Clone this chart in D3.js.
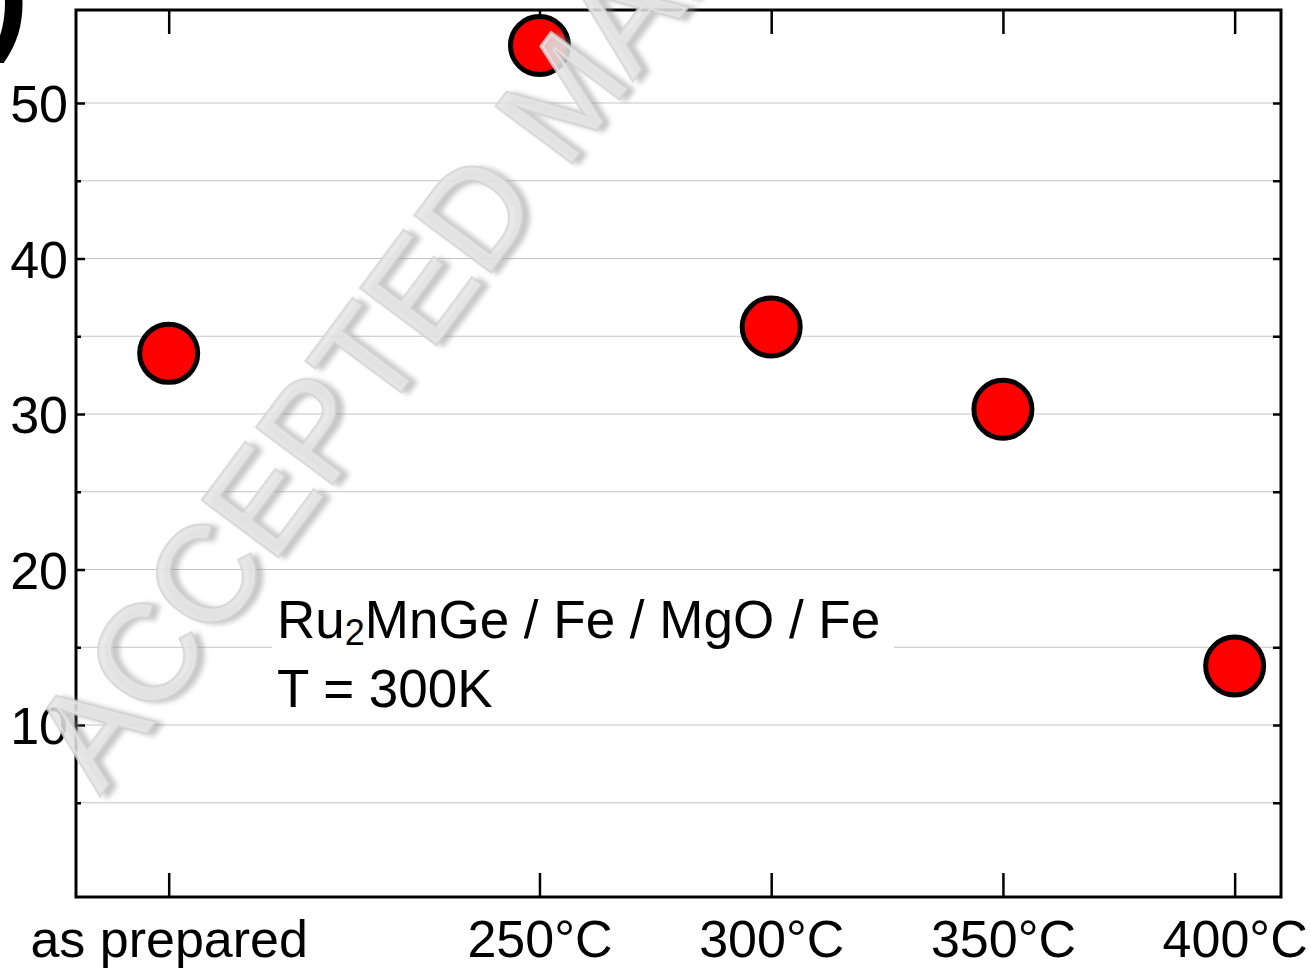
<!DOCTYPE html>
<html>
<head>
<meta charset="utf-8">
<script src="https://cdn.jsdelivr.net/npm/d3@7"></script>
<style>
  html, body { margin: 0; padding: 0; background: #fff; }
  svg { display: block; font-family: "Liberation Sans", Arial, Helvetica, sans-serif; }
</style>
</head>
<body>
<div id="chart"></div>
<script>
const width = 1311;
const height = 968;
const margin = {top: 10, left: 76, bottom: 71, right: 30};

// data
const labels = ["as prepared", "250°C", "300°C", "350°C", "400°C"];
const xPos = [170, 250, 300, 350, 400];
const tmr = [33.9, 53.7, 35.6, 30.3, 13.8];
const majorTicks = [10, 20, 30, 40, 50];
const minorTicks = [5, 15, 25, 35, 45];
const gridTicks = [5, 10, 15, 20, 25, 30, 35, 40, 45, 50];

const x = d3.scaleLinear()
  .domain([150, 410])
  .range([margin.left, width - margin.right]);

const y = d3.scaleLinear()
  .domain([-1.06, 55.98])
  .range([height - margin.bottom, margin.top]);

const svg = d3.select("#chart").append("svg")
  .attr("width", width)
  .attr("height", height)
  .attr("viewBox", [0, 0, width, height]);

// panel letter, mostly cut off at the left edge
svg.append("text")
  .attr("x", 29)
  .attr("y", 36)
  .attr("text-anchor", "end")
  .attr("font-size", 130)
  .attr("font-weight", "bold")
  .text("(b)");

// gridlines
svg.append("g")
  .selectAll("line")
  .data(gridTicks)
  .join("line")
    .attr("x1", margin.left)
    .attr("x2", width - margin.right)
    .attr("y1", d => y(d))
    .attr("y2", d => y(d))
    .attr("stroke", "#c4c4c4")
    .attr("stroke-width", 1.2);

// annotation with white background
const note = svg.append("g");
note.append("rect")
  .attr("x", 272)
  .attr("y", 588)
  .attr("width", 622)
  .attr("height", 128)
  .attr("fill", "#fff");
const line1 = note.append("text")
  .attr("x", 277)
  .attr("y", 638)
  .attr("font-size", 53);
line1.append("tspan").text("Ru");
line1.append("tspan").attr("font-size", 36).attr("dy", 7).text("2");
line1.append("tspan").attr("dy", -7).text("MnGe / Fe / MgO / Fe");
note.append("text")
  .attr("x", 277)
  .attr("y", 707)
  .attr("font-size", 53)
  .text("T = 300K");

// axes
svg.append("g")
  .attr("transform", `translate(0,${height - margin.bottom})`)
  .call(d3.axisBottom(x)
    .tickValues(xPos)
    .tickFormat((d, i) => labels[i])
    .tickSizeInner(-24)
    .tickSizeOuter(0)
    .tickPadding(23));

svg.append("g")
  .attr("transform", `translate(0,${margin.top})`)
  .call(d3.axisTop(x)
    .tickValues(xPos)
    .tickFormat("")
    .tickSizeInner(-24)
    .tickSizeOuter(0));

const left = svg.append("g")
  .attr("transform", `translate(${margin.left},0)`)
  .call(d3.axisLeft(y)
    .tickValues(majorTicks)
    .tickFormat(d3.format("d"))
    .tickSizeInner(-9)
    .tickSizeOuter(0)
    .tickPadding(8));

svg.append("g")
  .attr("transform", `translate(${margin.left},0)`)
  .call(d3.axisLeft(y)
    .tickValues(minorTicks)
    .tickFormat("")
    .tickSizeInner(-5)
    .tickSizeOuter(0));

svg.append("g")
  .attr("transform", `translate(${width - margin.right},0)`)
  .call(d3.axisRight(y)
    .tickValues(gridTicks)
    .tickFormat("")
    .tickSizeInner(-8)
    .tickSizeOuter(0));

svg.selectAll(".domain").remove();
svg.selectAll(".tick line").attr("stroke", "#000").attr("stroke-width", 2.5);
svg.selectAll(".tick text")
  .attr("fill", "#000")
  .style("font-size", "52px")
  .style("font-family", "'Liberation Sans', Arial, sans-serif");
left.selectAll(".tick text").attr("dy", "0.36em");

// frame
svg.append("rect")
  .attr("x", margin.left)
  .attr("y", margin.top)
  .attr("width", width - margin.left - margin.right)
  .attr("height", height - margin.top - margin.bottom)
  .attr("fill", "none")
  .attr("stroke", "#000")
  .attr("stroke-width", 3);

// points
svg.append("g")
  .selectAll("circle")
  .data(tmr)
  .join("circle")
    .attr("cx", (d, i) => x(xPos[i]))
    .attr("cy", d => y(d))
    .attr("r", 29)
    .attr("fill", "#ff0000")
    .attr("stroke", "#000")
    .attr("stroke-width", 5);

// watermark
const defs = svg.append("defs");
defs.append("filter")
  .attr("id", "blur")
  .append("feGaussianBlur")
  .attr("stdDeviation", 2.5);

const wm = svg.append("g")
  .attr("transform", "translate(100,795) rotate(-53.3)")
  .attr("font-size", 136);
wm.append("text")
  .attr("x", 3)
  .attr("y", 6)
  .attr("fill", "#909090")
  .attr("stroke", "#909090")
  .attr("stroke-width", 4)
  .attr("opacity", 0.5)
  .attr("filter", "url(#blur)")
  .text("ACCEPTED MANUSCRIPT");
wm.append("text")
  .attr("fill", "#e8e8e8")
  .attr("fill-opacity", 0.8)
  .attr("stroke", "#d4d4d4")
  .attr("stroke-opacity", 0.85)
  .attr("stroke-width", 4)
  .attr("paint-order", "stroke")
  .text("ACCEPTED MANUSCRIPT");
</script>
</body>
</html>
